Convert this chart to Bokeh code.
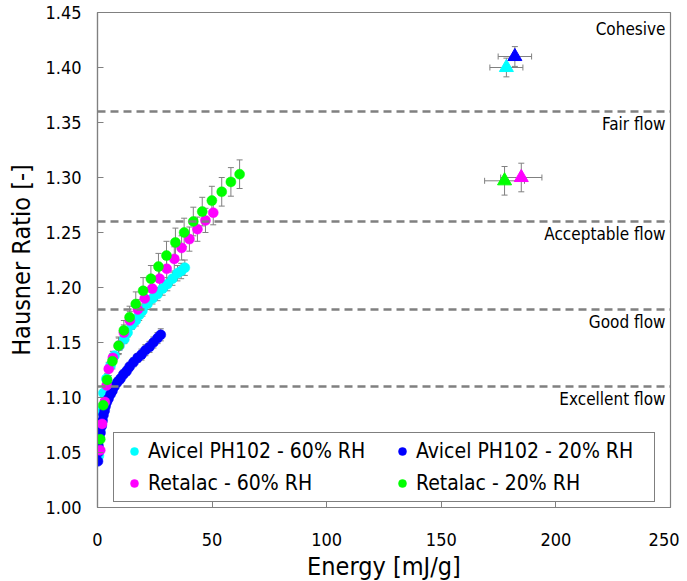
from bokeh.plotting import figure
from bokeh.models import (ColumnDataSource, Whisker, Span, Legend, LegendItem, Range1d,
                          FixedTicker, TeeHead, NumeralTickFormatter)
from bokeh.core.properties import value
from bokeh.embed import file_html
from bokeh.resources import INLINE

FONT = "DejaVu Sans Condensed"

# ---------------- data ----------------
series_names = ["Avicel PH102 - 60% RH", "Avicel PH102 - 20% RH",
                "Retalac - 60% RH", "Retalac - 20% RH"]
series_colors = ["#00FFFF", "#0000FF", "#FF00FF", "#00FF00"]

av60_e = [0.6, 1.1, 1.7, 2.6, 3.9, 5.7, 7.4, 9.6, 11.7, 13.1, 15.0, 16.7, 18.2, 19.6,
          21.8, 24.0, 26.2, 28.4, 30.5, 32.7, 34.9, 36.5, 38.1]
av60_hr = [1.047, 1.070, 1.088, 1.104, 1.117, 1.129, 1.138, 1.147, 1.153, 1.159, 1.166,
           1.170, 1.175, 1.179, 1.185, 1.190, 1.194, 1.199, 1.203, 1.208, 1.213, 1.215, 1.218]
av60_err = [0.002, 0.002, 0.002, 0.003, 0.003, 0.003, 0.003, 0.004, 0.004, 0.004, 0.004,
            0.005, 0.005, 0.005, 0.005, 0.005, 0.006, 0.006, 0.006, 0.006, 0.007, 0.007, 0.007]

av20_e = [0.2, 0.3, 0.4, 0.9, 1.3, 1.8, 2.2, 2.6, 3.1, 3.5, 4.1, 4.8, 5.7, 6.5, 7.4, 8.7,
          10.0, 11.3, 12.7, 14.0, 15.7, 17.5, 19.2, 20.9, 22.7, 24.4, 26.2, 27.6]
av20_hr = [1.042, 1.050, 1.056, 1.063, 1.068, 1.074, 1.079, 1.084, 1.088, 1.092, 1.096,
           1.099, 1.103, 1.106, 1.110, 1.114, 1.117, 1.121, 1.124, 1.128, 1.132, 1.136,
           1.139, 1.143, 1.146, 1.150, 1.154, 1.157]
av20_err = [0.002, 0.002, 0.002, 0.002, 0.002, 0.002, 0.002, 0.003, 0.003, 0.003, 0.003,
            0.003, 0.003, 0.003, 0.003, 0.004, 0.004, 0.004, 0.004, 0.004, 0.004, 0.004,
            0.005, 0.005, 0.005, 0.005, 0.005, 0.0055]

ret60_e = [1.2, 2.0, 3.2, 4.0, 4.9, 6.7, 9.3, 11.5, 14.1, 17.6, 20.6, 23.9, 27.1, 30.2,
           33.5, 36.7, 40.1, 43.6, 47.1, 50.5]
ret60_hr = [1.052, 1.076, 1.096, 1.111, 1.126, 1.136, 1.147, 1.159, 1.170, 1.180, 1.190,
            1.199, 1.208, 1.217, 1.226, 1.236, 1.244, 1.253, 1.261, 1.268]
ret60_err = [0.003, 0.004, 0.005, 0.005, 0.006, 0.006, 0.007, 0.007, 0.008, 0.009, 0.010,
             0.010, 0.011, 0.011, 0.011, 0.011, 0.011, 0.011, 0.011, 0.011]

ret20_e = [1.2, 2.5, 4.2, 6.5, 9.2, 11.5, 14.0, 16.7, 19.9, 23.3, 26.6, 30.1, 34.0, 37.8,
           41.8, 45.7, 49.9, 54.2, 58.2, 62.0]
ret20_hr = [1.062, 1.093, 1.116, 1.133, 1.147, 1.161, 1.173, 1.185, 1.197, 1.208, 1.219,
            1.229, 1.241, 1.250, 1.260, 1.269, 1.279, 1.287, 1.296, 1.303]
ret20_err = [0.004, 0.005, 0.006, 0.007, 0.008, 0.009, 0.010, 0.011, 0.012, 0.012, 0.012,
             0.013, 0.013, 0.013, 0.013, 0.013, 0.013, 0.013, 0.013, 0.013]

# triangles (one per series, same order as series_names)
tri_e = [178.4, 182.1, 184.9, 177.6]
tri_hr = [1.400, 1.410, 1.300, 1.297]
tri_e_err = [7.2, 7.3, 9.0, 8.7]
tri_hr_err = [0.0085, 0.009, 0.013, 0.013]

# flowability classes
class_bounds = [1.36, 1.26, 1.18, 1.11]
class_labels = ["Cohesive", "Fair flow", "Acceptable flow", "Good flow", "Excellent flow"]
class_label_y = [1.45, 1.36, 1.26, 1.18, 1.11]

x_ticks = [0, 50, 100, 150, 200, 250]
y_ticks = [1.00, 1.05, 1.10, 1.15, 1.20, 1.25, 1.30, 1.35, 1.40, 1.45]

# ---------------- figure ----------------
GREY = "#808080"
p = figure(frame_width=573, frame_height=495, output_backend="svg", toolbar_location=None,
           x_range=Range1d(0, 250), y_range=Range1d(1.00, 1.45),
           min_border_left=97, min_border_right=9, min_border_top=12, min_border_bottom=70)
p.xgrid.visible = False
p.ygrid.visible = False
p.outline_line_color = GREY
p.outline_line_width = 1.2
p.background_fill_color = "white"
p.border_fill_color = "white"

for ax in (p.xaxis[0], p.yaxis[0]):
    ax.axis_line_color = GREY
    ax.axis_line_width = 1.2
    ax.major_tick_line_color = GREY
    ax.major_tick_in = 6
    ax.major_tick_out = 0
    ax.minor_tick_line_color = None
    ax.major_label_text_font = FONT
    ax.major_label_text_font_size = "18px"
    ax.major_label_text_color = "black"
    ax.axis_label_text_font = FONT
    ax.axis_label_text_font_size = "25px"
    ax.axis_label_text_font_style = "normal"
    ax.axis_label_text_color = "black"

p.xaxis.ticker = FixedTicker(ticks=x_ticks)
p.yaxis.ticker = FixedTicker(ticks=y_ticks)
p.yaxis.formatter = NumeralTickFormatter(format="0.00")
p.xaxis.axis_label = "Energy [mJ/g]"
p.yaxis.axis_label = "Hausner Ratio [-]"
p.xaxis.major_label_standoff = 25
p.yaxis.major_label_standoff = 16
p.xaxis.axis_label_standoff = 3
p.yaxis.axis_label_standoff = 6

# class boundaries
for b in class_bounds:
    p.add_layout(Span(location=b, dimension="width", line_color=GREY, line_width=2.5,
                      line_dash="8 5"))

p.text(x="x", y="y", text="t",
       source=ColumnDataSource(dict(x=[250], y=class_label_y[:1], t=class_labels[:1])),
       text_align="right", text_baseline="middle", x_offset=-5, y_offset=16,
       text_font=value(FONT), text_font_size="17px", text_color="black")
p.text(x="x", y="y", text="t",
       source=ColumnDataSource(dict(x=[250] * (len(class_labels) - 1), y=class_label_y[1:],
                                    t=class_labels[1:])),
       text_align="right", text_baseline="middle", x_offset=-5, y_offset=12,
       text_font=value(FONT), text_font_size="17px", text_color="black")

# curves with error bars
curves = [(av60_e, av60_hr, av60_err), (av20_e, av20_hr, av20_err),
          (ret60_e, ret60_hr, ret60_err), (ret20_e, ret20_hr, ret20_err)]
renderers = []
for (e, hr, err), col in zip(curves, series_colors):
    src = ColumnDataSource(dict(e=e, hr=hr,
                                up=[h + d for h, d in zip(hr, err)],
                                lo=[h - d for h, d in zip(hr, err)]))
    w = Whisker(source=src, base="e", upper="up", lower="lo", dimension="height",
                line_color=GREY, line_width=1, level="underlay",
                upper_head=TeeHead(size=6, line_color=GREY, line_width=1),
                lower_head=TeeHead(size=6, line_color=GREY, line_width=1))
    p.add_layout(w)
    r = p.scatter("e", "hr", source=src, size=10, fill_color=col, line_color=col,
                  line_width=0.5)
    renderers.append(r)

# triangles with x/y error bars
tri_src = ColumnDataSource(dict(
    e=tri_e, hr=tri_hr, c=series_colors,
    eu=[a + b for a, b in zip(tri_e, tri_e_err)], el=[a - b for a, b in zip(tri_e, tri_e_err)],
    hu=[a + b for a, b in zip(tri_hr, tri_hr_err)], hl=[a - b for a, b in zip(tri_hr, tri_hr_err)]))
p.add_layout(Whisker(source=tri_src, base="hr", upper="eu", lower="el", dimension="width",
                     line_color=GREY, line_width=1, level="underlay",
                     upper_head=TeeHead(size=6, line_color=GREY, line_width=1),
                     lower_head=TeeHead(size=6, line_color=GREY, line_width=1)))
p.add_layout(Whisker(source=tri_src, base="e", upper="hu", lower="hl", dimension="height",
                     line_color=GREY, line_width=1, level="underlay",
                     upper_head=TeeHead(size=6, line_color=GREY, line_width=1),
                     lower_head=TeeHead(size=6, line_color=GREY, line_width=1)))
p.scatter("e", "hr", source=tri_src, marker="triangle", size=14, fill_color="c", line_color="c")

# legend
items = [LegendItem(label=n, renderers=[r]) for n, r in zip(series_names, renderers)]
legend = Legend(items=items, location=(16, 5), orientation="horizontal", ncols=2,
                glyph_width=28, glyph_height=20, label_standoff=0, label_width=232,
                label_height=24, spacing=8, padding=6, margin=0,
                label_text_font=FONT, label_text_font_size="21px", label_text_color="black",
                label_text_baseline="middle",
                border_line_color="black", border_line_width=1,
                background_fill_color="white", background_fill_alpha=1.0)
p.add_layout(legend, "center")

open("out.html", "w").write(file_html(p, INLINE))
